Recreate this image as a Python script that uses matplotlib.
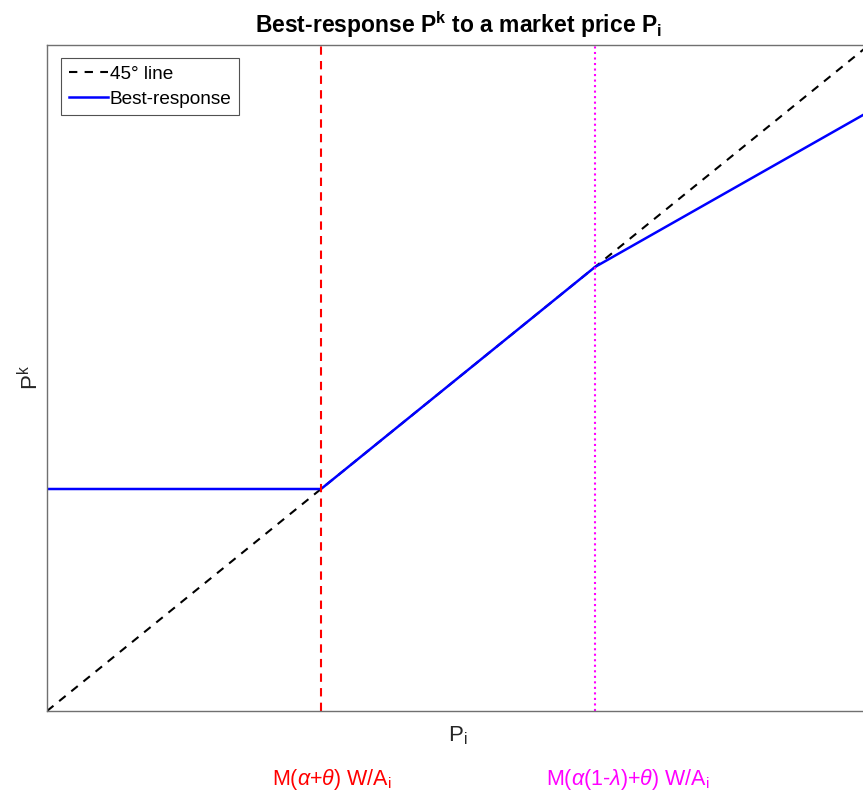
import numpy as np
import matplotlib
matplotlib.use("Agg")
import matplotlib.pyplot as plt

plt.rcParams['font.family'] = ['Liberation Sans', 'DejaVu Sans']
plt.rcParams['mathtext.fontset'] = 'custom'
plt.rcParams['mathtext.rm'] = 'Liberation Sans'
plt.rcParams['mathtext.it'] = 'Liberation Sans:italic'
plt.rcParams['mathtext.bf'] = 'Liberation Sans:bold'

# prices on the horizontal axis, best response at the kinks
p_market = [0.0, 1.0, 2.0, 3.0]
p_best = [1.0, 1.0, 2.0, 2.7]
diag = [0.0, 3.0]

# thresholds M(a+t)W/A and M(a(1-l)+t)W/A
thr_low = 1.0
thr_high = 2.0
thr_labels = [r'M($\alpha$+$\theta$) W/A$_\mathrm{i}$',
              r'M($\alpha$(1-$\lambda$)+$\theta$) W/A$_\mathrm{i}$']
thr_colors = ['#ff0000', '#ff00ff']

fig = plt.figure(figsize=(8.63, 7.99), dpi=100)
ax = fig.add_axes([47 / 863, 88 / 799, 822 / 863, 666 / 799])

ax.plot(diag, diag, 'k--', lw=1.5, dashes=(4, 3.5), label='45° line')
ax.plot(p_market, p_best, color='#0000ff', lw=1.8, label='Best-response')
ax.axvline(thr_low, color=thr_colors[0], ls='--', lw=1.5, dashes=(4, 3))
ax.axvline(thr_high, color=thr_colors[1], ls=':', lw=1.5)

ax.set_xlim(0, 3)
ax.set_ylim(0, 3)
ax.set_xticks([])
ax.set_yticks([])
for s in ax.spines.values():
    s.set_color('#707070')
    s.set_linewidth(1.0)

ax.set_title(r'Best-response P$^\mathbf{k}$ to a market price P$_\mathbf{i}$',
             fontsize=16.5, fontweight='bold', pad=9)
ax.set_xlabel(r'P$_\mathrm{i}$', fontsize=16, color='#262626', labelpad=10)
ax.set_ylabel(r'P$^\mathrm{k}$', fontsize=16, color='#262626', labelpad=3)

for xv, txt, c in zip([thr_low, thr_high], thr_labels, thr_colors):
    ax.annotate(txt, xy=(xv, 0), xycoords=('data', 'axes fraction'),
                xytext=(-49, -74), textcoords='offset pixels',
                ha='left', va='baseline', color=c, fontsize=15.5)

leg = ax.legend(loc='upper left', bbox_to_anchor=(14 / 822, 1 - 13 / 666),
                borderaxespad=0, fancybox=False, fontsize=13.7,
                handlelength=2.05, handletextpad=0.1, borderpad=0.4,
                labelspacing=0.4, edgecolor='#262626')
leg.get_frame().set_linewidth(0.8)

fig.savefig('out.png', dpi=100)
